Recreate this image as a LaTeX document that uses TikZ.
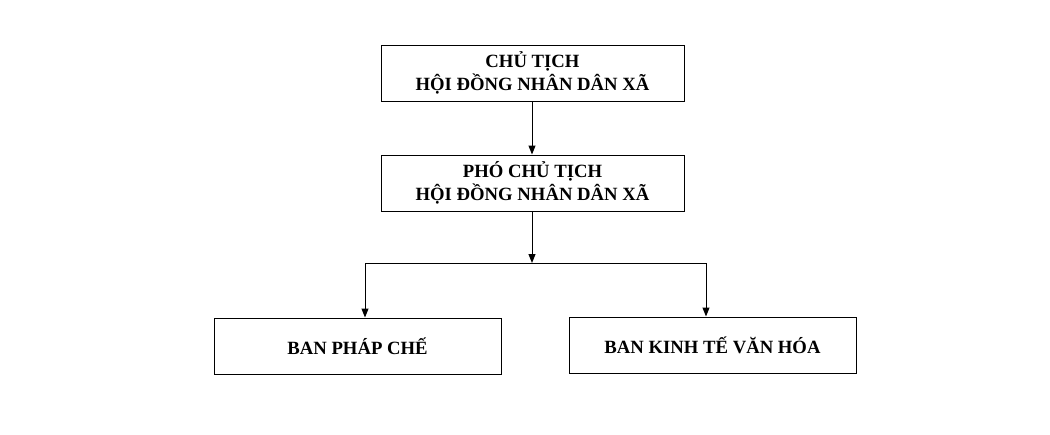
\documentclass[tikz,border=0pt]{standalone}
\usepackage{fontspec}
\setmainfont{Liberation Serif}
\usetikzlibrary{arrows.meta}
\begin{document}
\begin{tikzpicture}[x=1pt,y=-1pt,
  box/.style={draw,line width=1pt,minimum width=303pt,minimum height=56pt,inner sep=0pt,align=center,font=\bfseries\fontsize{18.7}{23}\selectfont},
  smallbox/.style={box,minimum width=287pt},
  conn/.style={line width=1pt},
  arr/.style={conn,-{Triangle[length=9pt,width=7pt]}}]
\useasboundingbox (0,0) rectangle (1050,434);
\node[box] (chu) at (532.5,73) {CHỦ TỊCH\\HỘI ĐỒNG NHÂN DÂN XÃ};
\node[box] (pho) at (532.5,183) {PHÓ CHỦ TỊCH\\HỘI ĐỒNG NHÂN DÂN XÃ};
\node[smallbox] (phap) at (357.5,346) {BAN PHÁP CHẾ};
\node[smallbox] (kinh) at (712.5,345) {BAN KINH TẾ VĂN HÓA};
\coordinate (j) at (532,263);
\coordinate (l) at (365,263);
\coordinate (r) at (706,263);
\draw[arr] (chu.south -| j) -- (pho.north -| j);
\draw[arr] (pho.south -| j) -- (j);
\draw[conn] (l) -- (r);
\draw[arr] (l) -- (l |- phap.north);
\draw[arr] (r) -- (r |- kinh.north);
\end{tikzpicture}
\end{document}
